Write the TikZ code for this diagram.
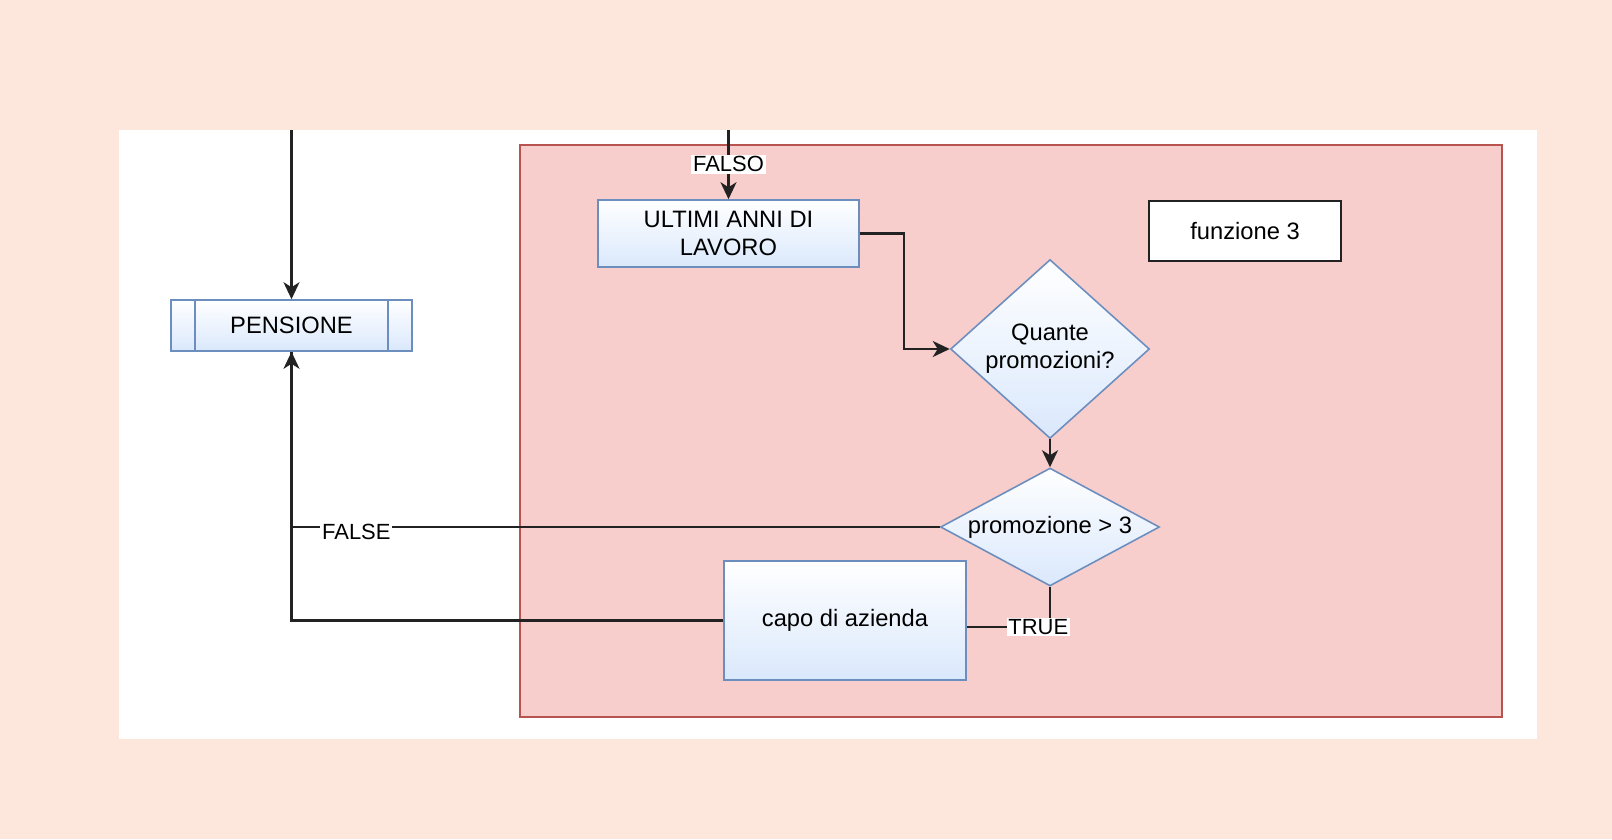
\documentclass[tikz,border=0pt]{standalone}
\usepackage{fontspec}
\setmainfont{Liberation Sans}
\usetikzlibrary{positioning,arrows.meta,shapes.geometric}
\definecolor{peach}{HTML}{FDE7DC}
\definecolor{grp}{HTML}{F8CECC}
\definecolor{grpline}{HTML}{B85450}
\definecolor{blu}{HTML}{DAE8FC}
\definecolor{bluline}{HTML}{6C8EBF}
\definecolor{ink}{HTML}{222222}

\begin{document}
\begin{tikzpicture}[x=0.02cm, y=-0.02cm,
  font=\fontsize{13.5}{16}\selectfont,
  proc/.style={rectangle, draw=bluline, line width=0.9pt, top color=white, bottom color=blu, align=center, inner sep=0pt},
  dec/.style={diamond, draw=bluline, line width=0.9pt, top color=white, bottom color=blu, align=center, inner sep=0pt},
  arr/.style={-{Stealth[length=3.4mm, width=3.2mm, inset=1mm]}, line width=1.3pt, draw=ink},
  lnk/.style={line width=1.3pt, draw=ink},
  lbl/.style={fill=white, inner sep=1pt, font=\fontsize{12.5}{14}\selectfont}]
\useasboundingbox (0,0) rectangle (1612,839);
\fill[peach] (0,0) rectangle (1612,839);
\fill[white] (119,130) rectangle (1537,739);
\draw[grpline, fill=grp, line width=0.9pt] (520,145) rectangle (1502,717);
\node[proc, minimum width=4.82cm, minimum height=1.02cm] (pen) at (291.5,325.5) {PENSIONE};
\draw[bluline, line width=0.9pt] ([xshift=0.5cm]pen.north west) -- ([xshift=0.5cm]pen.south west)
  ([xshift=-0.5cm]pen.north east) -- ([xshift=-0.5cm]pen.south east);
\node[proc, minimum width=5.22cm, minimum height=1.34cm] (ult) at (728.5,233.5) {ULTIMI ANNI DI\\LAVORO};
\node[draw=ink, fill=white, line width=1.1pt, minimum width=3.84cm, minimum height=1.2cm] (fz) at (1245,231) {funzione 3};
\node[dec, aspect=1.11, minimum width=3.98cm, minimum height=3.58cm] (q) at (1050,349) {Quante\\promozioni?};
\node[dec, aspect=1.86, minimum width=4.38cm, minimum height=2.36cm] (pr) at (1050,527) {promozione > 3};
\node[proc, minimum width=4.84cm, minimum height=2.38cm] (capo) at (845,620.5) {capo di azienda};
\coordinate (inL) at (291.5,130);
\coordinate (inR) at (728.5,130);
\draw[arr] (inL) -- (pen.north);
\draw[arr] (inR) -- node[lbl, pos=0.47, yshift=-0.03cm] {FALSO} (ult.north);
\draw[arr] (ult.east) -- ++(44,0) |- (q.west);
\draw[arr] (q) -- (pr);
\draw[arr] (pr.west) -| node[lbl, pos=0.45, yshift=-0.09cm] {FALSE} (pen.south);
\draw[lnk] (pr.south) |- node[lbl, pos=0.57] {TRUE} ([yshift=-0.13cm]capo.east);
\draw[lnk] (capo.west) -| (pen.south);
\end{tikzpicture}
\end{document}
